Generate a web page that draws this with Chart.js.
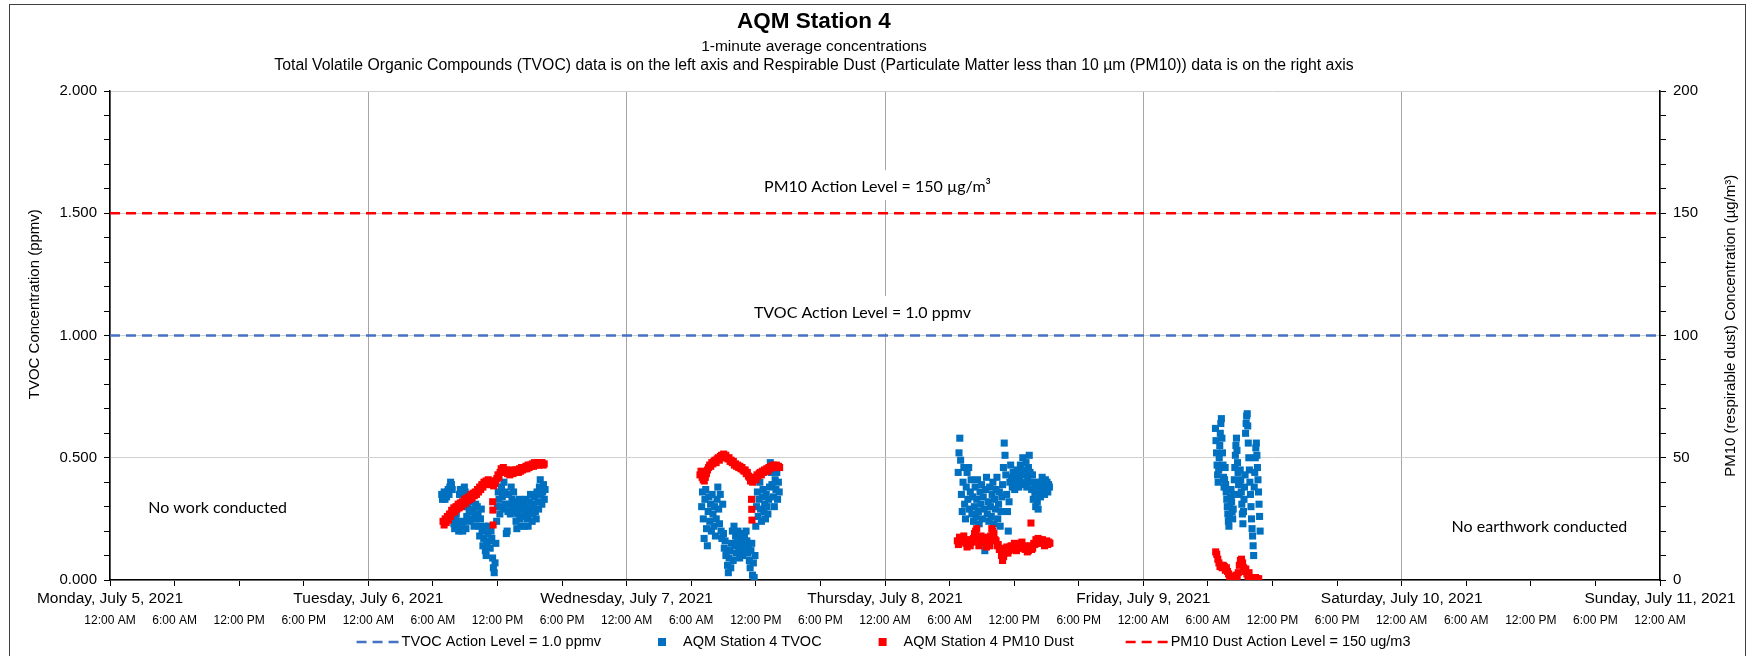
<!DOCTYPE html>
<html>
<head>
<meta charset="utf-8">
<title>AQM Station 4</title>
<script src="https://cdn.jsdelivr.net/npm/chart.js@4.4.1/dist/chart.umd.min.js"></script>
<style>
  html, body { margin: 0; padding: 0; background: #fff; overflow: hidden; }
  #wrap { position: relative; width: 1748px; height: 656px; }
  #frame { position: absolute; left: 9px; top: 4px; width: 1737px; height: 700px;
           border: 1px solid #404040; box-sizing: border-box; pointer-events: none; }
</style>
</head>
<body>
<div id="wrap">
  <canvas id="chart"></canvas>
  <div id="frame"></div>
</div>
<script>
// axis labels
const dayLabels = ['Monday, July 5, 2021', 'Tuesday, July 6, 2021', 'Wednesday, July 7, 2021',
  'Thursday, July 8, 2021', 'Friday, July 9, 2021', 'Saturday, July 10, 2021', 'Sunday, July 11, 2021'];
const timeLabels = ['12:00 AM', '6:00 AM', '12:00 PM', '6:00 PM'];

// action levels
const tvocLimit = 1.0;   // ppmv
const pm10Limit = 150;   // ug/m3

// readings, hours after Monday July 5 12:00 AM
// each work day: start hour, sample step (h), values
const tvocStarts = [30.82, 54.97, 78.8, 102.7];
const tvocSteps = [0.075, 0.075, 0.075, 0.05];
const tvocTue = [
  0.35, 0.33, 0.34, 0.36, 0.33, 0.35, 0.34, 0.36, 0.37, 0.35,
  0.38, 0.40, 0.39, 0.37, 0.26, 0.23, 0.21, 0.25, 0.27, 0.22,
  0.24, 0.20, 0.35, 0.37, 0.36, 0.22, 0.20, 0.24, 0.38, 0.36,
  0.21, 0.26, 0.30, 0.33, 0.28, 0.24, 0.32, 0.34, 0.29, 0.25,
  0.22, 0.27, 0.31, 0.25, 0.30, 0.27, 0.22, 0.18, 0.25, 0.29,
  0.20, 0.14, 0.17, 0.22, 0.12, 0.10, 0.15, 0.19, 0.22, 0.16,
  0.13, 0.20, 0.17, 0.09, 0.05, 0.03, 0.07, 0.15, 0.24, 0.30,
  0.36, 0.33, 0.27, 0.30, 0.38, 0.34, 0.29, 0.40, 0.36, 0.31,
  0.19, 0.20, 0.28, 0.35, 0.31, 0.27, 0.38, 0.33, 0.30, 0.36,
  0.28, 0.32, 0.24, 0.21, 0.27, 0.30, 0.33, 0.25, 0.22, 0.29,
  0.31, 0.26, 0.22, 0.28, 0.33, 0.30, 0.25, 0.22, 0.27, 0.32,
  0.35, 0.29, 0.24, 0.27, 0.31, 0.34, 0.28, 0.25, 0.36, 0.32,
  0.29, 0.38, 0.41, 0.35, 0.31, 0.36, 0.39, 0.33, 0.37];
const tvocWed = [
  0.30, 0.36, 0.25, 0.17, 0.33, 0.37, 0.21, 0.14, 0.28, 0.34,
  0.24, 0.31, 0.20, 0.35, 0.27, 0.22, 0.30, 0.18, 0.25, 0.33,
  0.38, 0.29, 0.23, 0.35, 0.20, 0.17, 0.31, 0.19, 0.13, 0.16,
  0.10, 0.12, 0.06, 0.03, 0.09, 0.12, 0.05, 0.15, 0.20, 0.08,
  0.22, 0.14, 0.18, 0.11, 0.16, 0.20, 0.12, 0.09, 0.17, 0.14,
  0.19, 0.10, 0.15, 0.18, 0.12, 0.20, 0.16, 0.11, 0.14, 0.08,
  0.05, 0.12, 0.15, 0.02, 0.07, 0.01, 0.10, 0.22, 0.30, 0.36,
  0.26, 0.33, 0.40, 0.29, 0.24, 0.34, 0.37, 0.28, 0.31, 0.25,
  0.35, 0.30, 0.27, 0.33, 0.38, 0.48, 0.44, 0.39, 0.46, 0.34,
  0.30, 0.41, 0.37, 0.44, 0.33, 0.40, 0.36];
const tvocThu = [
  0.44, 0.52, 0.58, 0.49, 0.35, 0.28, 0.40, 0.46, 0.31, 0.25,
  0.38, 0.44, 0.33, 0.46, 0.29, 0.36, 0.41, 0.27, 0.34, 0.24,
  0.30, 0.38, 0.26, 0.33, 0.41, 0.28, 0.23, 0.36, 0.31, 0.39,
  0.25, 0.34, 0.29, 0.12, 0.37, 0.42, 0.27, 0.32, 0.24, 0.38,
  0.30, 0.26, 0.35, 0.40, 0.23, 0.33, 0.29, 0.37, 0.42, 0.25,
  0.31, 0.36, 0.22, 0.28, 0.34, 0.39, 0.46, 0.56, 0.51, 0.43,
  0.35, 0.28, 0.20, 0.32, 0.40, 0.47, 0.42, 0.38, 0.44, 0.40,
  0.37, 0.43, 0.39, 0.45, 0.41, 0.38, 0.42, 0.47, 0.40, 0.44,
  0.50, 0.45, 0.39, 0.43, 0.48, 0.38, 0.41, 0.46, 0.51, 0.44,
  0.40, 0.37, 0.43, 0.33, 0.40, 0.35, 0.30, 0.38, 0.32, 0.29,
  0.36, 0.40, 0.34, 0.38, 0.42, 0.36, 0.39, 0.35, 0.41, 0.37,
  0.40, 0.36, 0.39, 0.38];
const tvocFri = [
  0.62, 0.57, 0.52, 0.47, 0.43, 0.40, 0.45, 0.50, 0.55, 0.60,
  0.64, 0.66, 0.58, 0.52, 0.47, 0.42, 0.38, 0.41, 0.46, 0.39,
  0.36, 0.33, 0.30, 0.27, 0.24, 0.22, 0.26, 0.30, 0.34, 0.37,
  0.32, 0.28, 0.25, 0.29, 0.35, 0.41, 0.46, 0.51, 0.55, 0.58,
  0.53, 0.48, 0.44, 0.39, 0.35, 0.40, 0.45, 0.41, 0.36, 0.31,
  0.27, 0.23, 0.28, 0.33, 0.38, 0.43, 0.60, 0.64, 0.67, 0.68,
  0.63, 0.56, 0.50, 0.45, 0.40, 0.35, 0.30, 0.25, 0.21, 0.18,
  0.14, 0.10, 0.38, 0.44, 0.50, 0.54, 0.56, 0.51, 0.46, 0.41,
  0.36, 0.31, 0.26, 0.20];

const pm10Starts = [30.94, 35.55, 54.81, 59.6, 78.72, 85.56, 102.72];
const pm10Steps = [0.1, 0.02, 0.1, 0.02, 0.1, 0.02, 0.1];
const pm10Tue = [
  24, 22.5, 25, 23.5, 26, 24.5, 27, 26, 28.5, 27.5,
  29.5, 28, 30, 29, 31, 29.5, 31.5, 30, 32, 31,
  33, 31.5, 33.5, 32.5, 34, 33, 35, 33.5, 35.5, 34.5,
  36, 35, 37, 36, 38, 37, 39, 38, 40, 39,
  40.5, 39.5, 41, 40, 40.5, 39, 40, 38.5, 39.5, 40.5,
  41.5, 43, 42, 44, 45.5, 44.5, 46, 45, 44, 45,
  43.5, 44.5, 43, 44, 45, 43.5, 44.5, 45, 44, 45,
  44, 45.5, 44.5, 46, 45, 46, 45.5, 46.5, 45.5, 47,
  46, 47, 46.5, 47.5, 46.5, 48, 47, 47.5, 48, 47,
  48, 47.5, 48, 47, 47.5];
const pm10TueDrop = [32, 28.6, 22.5];
const pm10Wed = [
  43, 44.5, 42, 41, 40.5, 42, 43.5, 45, 46, 47,
  46.5, 48, 47.5, 48.5, 49, 48, 49.5, 50, 49, 50.5,
  51, 50, 51.5, 50.5, 51, 50, 49.5, 50, 48.5, 49,
  48, 48.5, 47, 47.5, 46.5, 47, 46, 46.5, 45.5, 46,
  45, 44.5, 45, 43.5, 44, 42.5, 42, 40.5, 41, 40,
  41.5, 42, 41, 43, 42.5, 43.5, 44, 43, 44.5, 44,
  45, 44.5, 45.5, 44.5, 46, 45.5, 46.5, 46, 47, 46,
  46.5, 47, 46, 46.5, 46];
const pm10WedDrop = [33, 28.9, 24.5];
const pm10Thu = [
  16, 14.5, 17.5, 16, 15.5, 17, 18, 16.5, 15, 13.5,
  16, 14.5, 14, 16.5, 15.5, 17, 19, 20, 21, 17,
  14, 16, 18, 15.5, 16, 17.5, 15, 13.5, 17, 15.5,
  14, 18, 21, 20, 19, 16.5, 16, 14, 14.5, 12.5,
  13, 10, 8, 9.5, 11, 12.5, 13.5, 11, 12, 13.5,
  14, 12.5, 13, 15, 14.5, 12, 13, 14.5, 14, 15,
  15.5, 13, 14, 12.5, 13, 11.5, 12, 13.5, 14, 12.5,
  13, 15, 14.5, 16.5, 16, 17, 16.5, 15, 15, 16.5,
  15.5, 14, 15, 16, 14.5, 15.5, 15];
const pm10ThuSpike = [23.3];
const pm10Fri = [
  11.5, 10.5, 8.5, 7, 5.5, 6, 5, 6, 5.5, 4,
  5, 3.5, 2.5, 1.5, 0.5, 1, 0.5, 1.5, 1, 2,
  1, 3, 6, 8, 8.5, 7, 5, 3.5, 4.5, 2.5,
  1.5, 3, 1, 0.5, 1, 0.5, 0.5, 1, 0.5, 0.5, 0.5];

const tvocRuns = [tvocTue, tvocWed, tvocThu, tvocFri];
const pm10Runs = [pm10Tue, pm10TueDrop, pm10Wed, pm10WedDrop, pm10Thu, pm10ThuSpike, pm10Fri];

function toPoints(starts, steps, runs) {
  const pts = [];
  runs.forEach((vals, r) => vals.forEach((v, i) => pts.push({ x: starts[r] + i * steps[r], y: v })));
  return pts;
}

const family = '"Liberation Sans", Arial, sans-serif';
const noteFont = '16px Lato, "Open Sans", sans-serif';
Chart.defaults.font.family = family;
Chart.defaults.color = '#000';

// header text, centred over the plot the way the original sheet had it
const titleText = 'AQM Station 4';
const subtitleLines = ['1-minute average concentrations',
  'Total Volatile Organic Compounds (TVOC) data is on the left axis and Respirable Dust (Particulate Matter less than 10 µm (PM10)) data is on the right axis'];
const leftTitle = 'TVOC Concentration (ppmv)';
const rightTitle = 'PM10 (respirable dust) Concentration (µg/m³)';

const headerPlugin = {
  id: 'header',
  afterDraw(chart) {
    const ctx = chart.ctx, area = chart.chartArea;
    const cx = 814;
    ctx.save();
    ctx.fillStyle = '#000';
    ctx.textAlign = 'center';
    ctx.textBaseline = 'middle';
    ctx.font = 'bold 22.5px ' + family;
    ctx.fillText(titleText, cx, 22);
    ctx.font = '15.5px ' + family;
    ctx.fillText(subtitleLines[0], cx, 47);
    ctx.font = '15.8px ' + family;
    ctx.fillText(subtitleLines[1], cx, 66);
    // axis titles, both read bottom to top
    ctx.font = '15px ' + family;
    [[leftTitle, 35, 0.436], [rightTitle, 1731, 0.48]].forEach(([t, x, f]) => {
      ctx.save();
      ctx.translate(x, area.top + f * (area.bottom - area.top));
      ctx.rotate(-Math.PI / 2);
      ctx.fillText(t, 0, 0);
      ctx.restore();
    });
    ctx.restore();
  }
};

// text boxes on the plot (hour, TVOC value)
const notes = [
  { text: 'PM10 Action Level = 150 µg/m³', hour: 71.3, value: 1.607, up: 17, down: 13 },
  { text: 'TVOC Action Level = 1.0 ppmv', hour: 69.9, value: 1.092, up: 17, down: 20 },
  { text: 'No work conducted', hour: 10.0, value: 0.294 },
  { text: 'No earthwork conducted', hour: 132.8, value: 0.217 }
];

const notesPlugin = {
  id: 'notes',
  beforeDatasetsDraw(chart) {
    const { ctx, scales: { x, y } } = chart;
    ctx.save();
    ctx.font = noteFont;
    ctx.textAlign = 'center';
    ctx.textBaseline = 'middle';
    notes.forEach(n => {
      const px = x.getPixelForValue(n.hour), py = y.getPixelForValue(n.value);
      if (n.up) {
        const w = ctx.measureText(n.text).width + 16;
        ctx.fillStyle = '#fff';
        ctx.fillRect(px - w / 2, py - n.up, w, n.up + n.down);
      }
      ctx.fillStyle = '#000';
      ctx.fillText(n.text, px, py);
    });
    ctx.restore();
  }
};

// legend drawn under the time labels
const legendIcons = [
  { kind: 'dash', color: '#4472C4' },
  { kind: 'square', color: '#0070C0' },
  { kind: 'square', color: '#FF0000' },
  { kind: 'dash', color: '#FF0000' }
];
const legendPlugin = {
  id: 'bottomLegend',
  afterDraw(chart) {
    const ctx = chart.ctx;
    const itemGap = 52;
    ctx.save();
    ctx.font = '14.5px ' + family;
    ctx.textBaseline = 'middle';
    const labels = chart.data.datasets.map(d => d.label);
    const iconW = legendIcons.map(ic => ic.kind === 'dash' ? 45 : 30);
    const widths = labels.map((t, i) => iconW[i] + ctx.measureText(t).width);
    const total = widths.reduce((a, b) => a + b, 0) + itemGap * (labels.length - 1);
    let x = chart.width / 2 + 9.5 - total / 2;
    const y = chart.chartArea.bottom + 62;
    labels.forEach((t, i) => {
      const ic = legendIcons[i];
      if (ic.kind === 'dash') {
        ctx.strokeStyle = ic.color;
        ctx.lineWidth = 2.5;
        ctx.setLineDash([10, 6]);
        ctx.beginPath();
        ctx.moveTo(x, y);
        ctx.lineTo(x + 42, y);
        ctx.stroke();
        ctx.setLineDash([]);
      } else {
        ctx.fillStyle = ic.color;
        ctx.fillRect(x + 5, y - 4, 8, 8);
      }
      ctx.fillStyle = '#000';
      ctx.fillText(t, x + iconW[i], y);
      x += widths[i] + itemGap;
    });
    ctx.restore();
  }
};

const isStep = (v, s) => Math.abs(v / s - Math.round(v / s)) < 1e-6;
const clear = 'rgba(0,0,0,0)';

new Chart(document.getElementById('chart'), {
  type: 'scatter',
  data: {
    datasets: [
      { label: 'TVOC Action Level = 1.0 ppmv', data: [{ x: 0, y: tvocLimit }, { x: 144, y: tvocLimit }],
        showLine: true, borderColor: '#4472C4', borderWidth: 2.5, borderDash: [10, 6], pointRadius: 0,
        yAxisID: 'y', order: 2 },
      { label: 'AQM Station 4 TVOC', data: toPoints(tvocStarts, tvocSteps, tvocRuns),
        backgroundColor: '#0070C0', pointBackgroundColor: '#0070C0', pointStyle: 'rect',
        pointRadius: 5, pointBorderWidth: 0, yAxisID: 'y', order: 1 },
      { label: 'AQM Station 4 PM10 Dust', data: toPoints(pm10Starts, pm10Steps, pm10Runs),
        backgroundColor: '#FF0000', pointBackgroundColor: '#FF0000', pointStyle: 'rect',
        pointRadius: 5, pointBorderWidth: 0, yAxisID: 'y1', order: 0 },
      { label: 'PM10 Dust Action Level = 150 ug/m3', data: [{ x: 0, y: pm10Limit }, { x: 144, y: pm10Limit }],
        showLine: true, borderColor: '#FF0000', borderWidth: 2.5, borderDash: [10, 6], pointRadius: 0,
        yAxisID: 'y1', order: 2 }
    ]
  },
  options: {
    responsive: true,
    maintainAspectRatio: false,
    animation: false,
    devicePixelRatio: 1,
    events: [],
    layout: { padding: { left: 0, right: 0, top: 91, bottom: 28 } },
    plugins: {
      legend: { display: false },
      tooltip: { enabled: false },
      title: { display: false },
      subtitle: { display: false }
    },
    scales: {
      x: {
        type: 'linear', position: 'bottom', min: 0, max: 144,
        ticks: { stepSize: 6, autoSkip: false, maxRotation: 0, color: '#000', font: { size: 15.5 }, padding: 3,
          callback: v => isStep(v, 24) ? dayLabels[Math.round(v / 24)] : '' },
        grid: { color: c => (c.tick && isStep(c.tick.value, 24)) ? '#a6a6a6' : clear,
          tickColor: '#000', tickLength: 6 },
        border: { color: '#000', width: 1.5 },
        afterFit: s => { s.height = 27; }
      },
      x2: {
        type: 'linear', position: 'bottom', min: 0, max: 144,
        ticks: { stepSize: 6, autoSkip: false, maxRotation: 0, color: '#000', font: { size: 12 }, padding: 6,
          callback: v => timeLabels[Math.round((v % 24) / 6)] },
        grid: { display: false, drawTicks: false },
        border: { display: false },
        afterFit: s => { s.height = 21; }
      },
      y: {
        type: 'linear', position: 'left', min: 0, max: 2,
        ticks: { stepSize: 0.1, autoSkip: false, color: '#000', font: { size: 15 }, padding: 7,
          callback: v => isStep(v, 0.5) ? v.toFixed(3) : '' },
        grid: { color: c => (c.tick && isStep(c.tick.value, 0.5)) ? '#d0d0d0' : clear,
          tickColor: '#000', tickLength: 6 },
        border: { color: '#000', width: 1.5 },
        afterFit: s => { s.width = 110; }
      },
      y1: {
        type: 'linear', position: 'right', min: 0, max: 200,
        ticks: { stepSize: 10, autoSkip: false, color: '#000', font: { size: 15 }, padding: 7,
          callback: v => isStep(v, 50) ? String(Math.round(v)) : '' },
        grid: { drawOnChartArea: false, color: '#000', tickLength: 6 },
        border: { color: '#000', width: 1.5 },
        afterFit: s => { s.width = 88; }
      }
    }
  },
  plugins: [notesPlugin, legendPlugin, headerPlugin]
});
</script>
</body>
</html>
